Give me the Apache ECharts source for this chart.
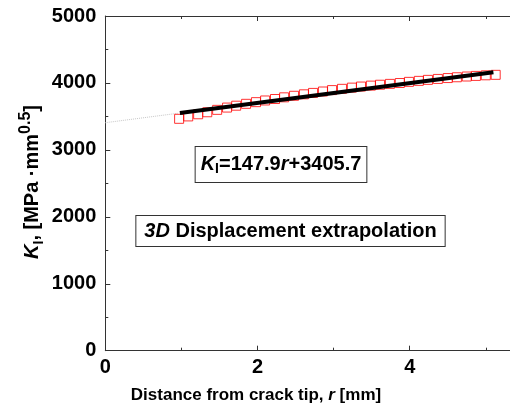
<!DOCTYPE html>
<html>
<head>
<meta charset="utf-8">
<script src="https://cdn.jsdelivr.net/npm/echarts@6/dist/echarts.min.js"></script>
<style>
  html, body { margin: 0; padding: 0; background: #fff; }
  #chart { width: 510px; height: 412px; }
</style>
</head>
<body>
<div id="chart"></div>
<script>
// Distance from the crack tip r [mm] for each sampled point
const rValues = [0.97, 1.09, 1.22, 1.34, 1.47, 1.60, 1.72, 1.85, 1.98, 2.10,
                 2.23, 2.35, 2.48, 2.61, 2.73, 2.86, 2.98, 3.11, 3.24, 3.36,
                 3.49, 3.61, 3.74, 3.87, 3.99, 4.12, 4.24, 4.37, 4.50, 4.62,
                 4.75, 4.87, 5.00, 5.13];
// Stress intensity factor K_I from 3D displacement extrapolation [MPa·mm^0.5]
const kValues = [3464, 3500, 3532, 3562, 3598, 3632, 3660, 3688, 3713, 3738,
                 3760, 3785, 3808, 3830, 3851, 3872, 3893, 3912, 3930, 3946,
                 3960, 3973, 3986, 3999, 4016, 4031, 4046, 4060, 4073, 4085,
                 4096, 4105, 4114, 4121];
// Linear fit K_I = slope * r + intercept
const fitSlope = 147.9;
const fitIntercept = 3405.7;
const fitRange = [0.98, 5.1];
const extrapRange = [0, 0.95];
// Axis ticks
const xTicks = { min: 0, max: 6, interval: 2 };
const yTicks = { min: 0, max: 5000, interval: 1000 };

const fitLine = fitRange.map(r => [r, fitSlope * r + fitIntercept]);
const extrapLine = extrapRange.map(r => [r, fitSlope * r + fitIntercept]);
const points = rValues.map((r, i) => [r, kValues[i]]);

const FONT = '"Liberation Sans", Arial, sans-serif';
const AX = '#333';

const chart = echarts.init(document.getElementById('chart'), null, { renderer: 'canvas' });

const xCommon = {
  type: 'value', min: xTicks.min, max: xTicks.max, interval: xTicks.interval,
  axisLine: { show: true, onZero: false, lineStyle: { color: AX, width: 1 } },
  axisTick: { show: true, inside: true, length: 5, lineStyle: { color: AX } },
  minorTick: { show: true, splitNumber: 2, length: 3, lineStyle: { color: AX } },
  splitLine: { show: false }, minorSplitLine: { show: false }
};
const yCommon = {
  type: 'value', min: yTicks.min, max: yTicks.max, interval: yTicks.interval,
  axisLine: { show: true, onZero: false, lineStyle: { color: AX, width: 1 } },
  axisTick: { show: true, inside: true, length: 5, lineStyle: { color: AX } },
  minorTick: { show: true, splitNumber: 2, length: 3, lineStyle: { color: AX } },
  splitLine: { show: false }, minorSplitLine: { show: false }
};
const plain = v => String(v);

// rich-text styles shared by the formula and note boxes
const richBase = (size, lh) => ({
  n: { fontFamily: FONT, fontWeight: 'bold', fontSize: size, lineHeight: lh, verticalAlign: 'middle' },
  i: { fontFamily: FONT, fontWeight: 'bold', fontStyle: 'italic', fontSize: size, lineHeight: lh, verticalAlign: 'middle' },
  s: { fontFamily: FONT, fontWeight: 'bold', fontSize: Math.round(size * 0.68), verticalAlign: 'bottom' },
  p: { fontFamily: FONT, fontWeight: 'bold', fontSize: Math.round(size * 0.78), verticalAlign: 'top' }
});

chart.setOption({
  animation: false,
  backgroundColor: '#fff',
  // the plot area runs past the right edge of the canvas
  grid: {
    left: 105.3, top: 16, width: 456.6, height: 334.7,
    containLabel: false, outerBoundsMode: 'none'
  },
  xAxis: [
    Object.assign({}, xCommon, {
      position: 'bottom',
      axisLabel: { show: true, margin: 7, color: '#000', fontFamily: FONT, fontWeight: 'bold', fontSize: 20, formatter: plain }
    }),
    Object.assign({}, xCommon, {
      position: 'top',
      axisLabel: { show: false }
    })
  ],
  yAxis: [
    Object.assign({}, yCommon, {
      position: 'left',
      axisLabel: { show: true, margin: 9, color: '#000', fontFamily: FONT, fontWeight: 'bold', fontSize: 20, formatter: plain }
    })
  ],
  series: [
    {
      type: 'line', data: extrapLine, symbol: 'none', silent: true,
      lineStyle: { color: '#c8c8c8', width: 1, type: 'dotted' }, z: 1
    },
    {
      type: 'scatter', data: points, symbol: 'rect', symbolSize: 9,
      itemStyle: { color: 'rgba(0,0,0,0)', borderColor: '#ff0000', borderWidth: 1 }, z: 2
    },
    {
      type: 'line', data: fitLine, symbol: 'none',
      lineStyle: { color: '#000', width: 4 }, z: 3
    }
  ],
  graphic: [
    {
      type: 'text', x: 32, y: 182, rotation: Math.PI / 2,
      style: {
        text: '{i|K}{s|I}{n|, [MPa ·mm}{p|0.5}{n|]}',
        align: 'center', verticalAlign: 'middle', fill: '#000',
        rich: richBase(20, 28)
      }
    },
    {
      type: 'text', x: 256, y: 395,
      style: {
        text: '{n|Distance from crack tip, }{i|r}{n| [mm]}',
        align: 'center', verticalAlign: 'middle', fill: '#000',
        rich: richBase(17, 20)
      }
    },
    {
      type: 'text', x: 281, y: 164.5,
      style: {
        text: '{i|K}{s|I}{n|=147.9}{i|r}{n|+3405.7}',
        align: 'center', verticalAlign: 'middle', fill: '#000',
        backgroundColor: '#fff', borderColor: '#333', borderWidth: 1,
        padding: [6, 5, 6, 5],
        rich: richBase(20, 23)
      }
    },
    {
      type: 'text', x: 290.5, y: 231,
      style: {
        text: '{i|3D}{n| Displacement extrapolation}',
        align: 'center', verticalAlign: 'middle', fill: '#000',
        backgroundColor: '#fff', borderColor: '#333', borderWidth: 1,
        padding: [4, 8, 4, 8],
        rich: richBase(20, 22)
      }
    }
  ]
});
</script>
</body>
</html>
